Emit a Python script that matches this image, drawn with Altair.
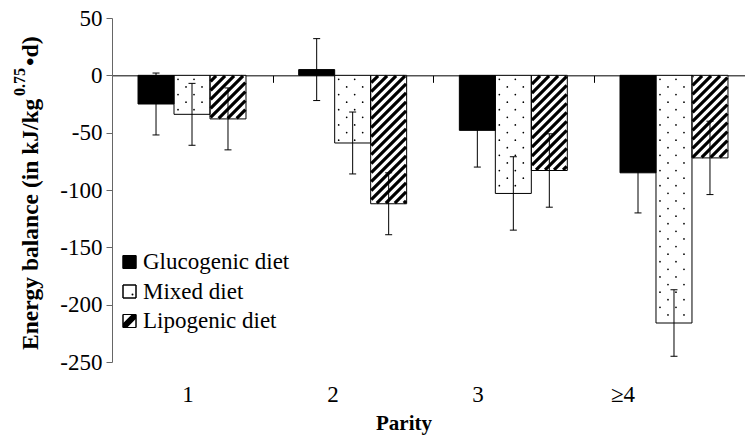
import math

import altair as alt
import pandas as pd

# ---- data -------------------------------------------------------------
parity = ["1", "2", "3", "≥4"]
diets = ["Glucogenic diet", "Mixed diet", "Lipogenic diet"]

glucogenic = [-25, 5, -48, -85]
glucogenic_se = [27, 27, 32, 35]
mixed = [-34, -59, -103, -216]
mixed_se = [27, 27, 32, 29]
lipogenic = [-38, -112, -83, -72]
lipogenic_se = [27, 27, 32, 32]

y_ticks = [50, 0, -50, -100, -150, -200, -250]

y_title_main = "Energy balance (in kJ/kg"
y_title_sup = "0.75"
y_title_end = "•d)"
x_title = "Parity"

# ---- layout -----------------------------------------------------------
W, H = 633, 344
PADDING = {"left": 112, "top": 18, "right": 0, "bottom": 86}
X_DOMAIN = [0, 3.94]          # one unit per parity group
Y_DOMAIN = [-250, 50]
PX_X = W / (X_DOMAIN[1] - X_DOMAIN[0])
PX_Y = H / (Y_DOMAIN[1] - Y_DOMAIN[0])
GROUP_PAD = 0.162             # gap before the first bar of a group
BAR_W = 0.224                 # bar width in group units
CAP_HALF = 3.5 / PX_X         # half width of error-bar caps
SERIF = "Liberation Serif"
FILLS = ["black", "white", "white"]
INK = "black"


def px_x(v):
    return (v - X_DOMAIN[0]) * PX_X


def px_y(v):
    return (Y_DOMAIN[1] - v) * PX_Y


def val_x(p):
    return X_DOMAIN[0] + p / PX_X


def val_y(p):
    return Y_DOMAIN[1] - p / PX_Y


rows = []
series = [(glucogenic, glucogenic_se), (mixed, mixed_se), (lipogenic, lipogenic_se)]
for k, (diet, (vals, ses)) in enumerate(zip(diets, series)):
    for i, (p, v, s) in enumerate(zip(parity, vals, ses)):
        x0 = i + GROUP_PAD + k * BAR_W
        xc = x0 + BAR_W / 2
        rows.append(dict(parity=p, diet=diet, value=v, se=s, x0=x0, x1=x0 + BAR_W,
                         xc=xc, c0=xc - CAP_HALF, c1=xc + CAP_HALF,
                         lo=v - s, hi=v + s))
bars = pd.DataFrame(rows)

# dotted fill for the mixed diet bars
dot_rows = []
for r in bars[bars.diet == "Mixed diet"].itertuples():
    left = px_x(r.x0)
    top, bottom = sorted([px_y(0), px_y(r.value)])
    y, j = top + 4, 0
    while y < bottom - 2:
        for off in ([4, 20] if j % 2 == 0 else [12, 28]):
            dot_rows.append(dict(x=val_x(left + off), y=val_y(y)))
        y += 7.6
        j += 1
dots = pd.DataFrame(dot_rows)

# diagonal hatching for the lipogenic diet bars
PERIOD = 9.0
hatch_rows = []
for r in bars[bars.diet == "Lipogenic diet"].itertuples():
    xa, xb = px_x(r.x0) + 0.6, px_x(r.x1) - 0.6
    ya, yb = sorted([px_y(0), px_y(r.value)])
    ya, yb = ya + 0.6, yb - 0.6
    c = math.ceil((xa + ya) / PERIOD) * PERIOD
    while c < xb + yb:
        lo_x, hi_x = max(xa, c - yb), min(xb, c - ya)
        if hi_x > lo_x:
            hatch_rows.append(dict(x=val_x(lo_x), y=val_y(c - lo_x),
                                   x2=val_x(hi_x), y2=val_y(c - hi_x)))
        c += PERIOD
hatch = pd.DataFrame(hatch_rows)

# ---- chart ------------------------------------------------------------
xs = alt.Scale(domain=X_DOMAIN, nice=False, zero=False)
ys = alt.Scale(domain=Y_DOMAIN, nice=False, zero=False)
fill_scale = alt.Scale(domain=diets, range=FILLS)

x_axis = alt.Axis(values=[1, 2, 3], labels=False, title=None, grid=False,
                  tickSize=7, tickColor="black", domainColor="black",
                  offset=-(H - px_y(0)))
y_axis = alt.Axis(values=y_ticks, title=None, grid=False, tickSize=6,
                  tickColor="#666", domainColor="#666", labelColor="black",
                  labelFont=SERIF, labelFontSize=23, labelPadding=4,
                  labelExpr="'' + datum.value")

bar_fill = alt.Chart(bars).mark_rect(opacity=1).encode(
    x=alt.X("x0:Q", scale=xs, axis=x_axis),
    x2="x1:Q",
    y=alt.Y("value:Q", scale=ys, axis=y_axis),
    y2=alt.datum(0),
    fill=alt.Fill("diet:N", scale=fill_scale, legend=None),
)

dot_layer = alt.Chart(dots).mark_circle(size=3, color="black", opacity=1).encode(
    x=alt.X("x:Q", scale=xs), y=alt.Y("y:Q", scale=ys)
)

hatch_layer = alt.Chart(hatch).mark_rule(strokeWidth=3.2, color="black", strokeCap="butt", opacity=1).encode(
    x=alt.X("x:Q", scale=xs), x2="x2:Q", y=alt.Y("y:Q", scale=ys), y2="y2:Q"
)

bar_outline = alt.Chart(bars).mark_rect(fillOpacity=0, stroke="black", strokeWidth=1, strokeOpacity=1).encode(
    x=alt.X("x0:Q", scale=xs), x2="x1:Q",
    y=alt.Y("value:Q", scale=ys), y2=alt.datum(0),
)

whisker = alt.Chart(bars).mark_rule(color=INK, strokeWidth=1, opacity=1).encode(
    x=alt.X("xc:Q", scale=xs), y=alt.Y("lo:Q", scale=ys), y2="hi:Q"
)
cap_lo = alt.Chart(bars).mark_rule(color=INK, strokeWidth=1, opacity=1).encode(
    x=alt.X("c0:Q", scale=xs), x2="c1:Q", y=alt.Y("lo:Q", scale=ys)
)
cap_hi = alt.Chart(bars).mark_rule(color=INK, strokeWidth=1, opacity=1).encode(
    x=alt.X("c0:Q", scale=xs), x2="c1:Q", y=alt.Y("hi:Q", scale=ys)
)

plot = alt.layer(bar_fill, dot_layer, hatch_layer, bar_outline, whisker, cap_lo, cap_hi)

# parity labels under the plot
x_labels = alt.Chart(pd.DataFrame({"parity": parity})).mark_text(
    font=SERIF, fontSize=23, color="black", align="center", baseline="alphabetic"
).encode(
    x=alt.X("parity:N", scale=alt.Scale(type="point", domain=parity, range=[3.5, 583.5], padding=0.5), axis=None),
    y=alt.value(384),
    text="parity:N",
)

x_title_mark = alt.Chart(pd.DataFrame({"t": [x_title]})).mark_text(
    font=SERIF, fontSize=21, fontWeight="bold", color="black", align="center", baseline="alphabetic"
).encode(x=alt.value(292), y=alt.value(412), text="t:N")


# rotated y title with a superscript exponent
def y_title_piece(text, x, y, size):
    return alt.Chart(pd.DataFrame({"t": [text]})).mark_text(
        font=SERIF, fontSize=size, fontWeight="bold", color="black",
        angle=270, align="left", baseline="alphabetic"
    ).encode(x=alt.value(x), y=alt.value(y), text="t:N")


y_title_layers = [
    y_title_piece(y_title_main, -74, 332, 23.5),
    y_title_piece(y_title_sup, -87, 78, 16),
    y_title_piece(y_title_end, -74, 48, 24),
]

# legend
legend_df = pd.DataFrame({"diet": diets})
leg_y = alt.Y("diet:N", scale=alt.Scale(type="point", domain=diets, range=[244, 303], padding=0), axis=None)

leg_swatch = alt.Chart(legend_df).mark_square(size=169, stroke="black", strokeWidth=1, opacity=1).encode(
    x=alt.value(17.5), y=leg_y, fill=alt.Fill("diet:N", scale=fill_scale, legend=None)
)
leg_dot = alt.Chart(legend_df).transform_filter(alt.datum.diet == "Mixed diet").mark_circle(
    size=4, color="black", opacity=1, xOffset=3, yOffset=3
).encode(x=alt.value(17.5), y=leg_y)
leg_hatch = alt.Chart(legend_df).transform_filter(alt.datum.diet == "Lipogenic diet").mark_point(
    shape="M-1,0.35L0.35,-1L1,-1L1,-0.35L-0.35,1L-1,1Z", size=169, filled=True, color="black", opacity=1
).encode(x=alt.value(17.5), y=leg_y)
leg_frame = alt.Chart(legend_df).mark_square(size=169, stroke="black", strokeWidth=1, fillOpacity=0).encode(
    x=alt.value(17.5), y=leg_y
)
leg_text = alt.Chart(legend_df).mark_text(
    font=SERIF, fontSize=23, color="black", align="left", baseline="middle"
).encode(x=alt.value(31), y=leg_y, text="diet:N")

chart = alt.layer(
    plot, x_labels, x_title_mark, *y_title_layers,
    leg_swatch, leg_dot, leg_hatch, leg_frame, leg_text,
).resolve_scale(x="independent", y="independent").properties(
    width=W, height=H,
    autosize=alt.AutoSizeParams(type="none"),
    padding=PADDING,
    background="white",
).configure_view(stroke=None)

chart.save("out.html", embed_options={"renderer": "svg", "actions": False})
